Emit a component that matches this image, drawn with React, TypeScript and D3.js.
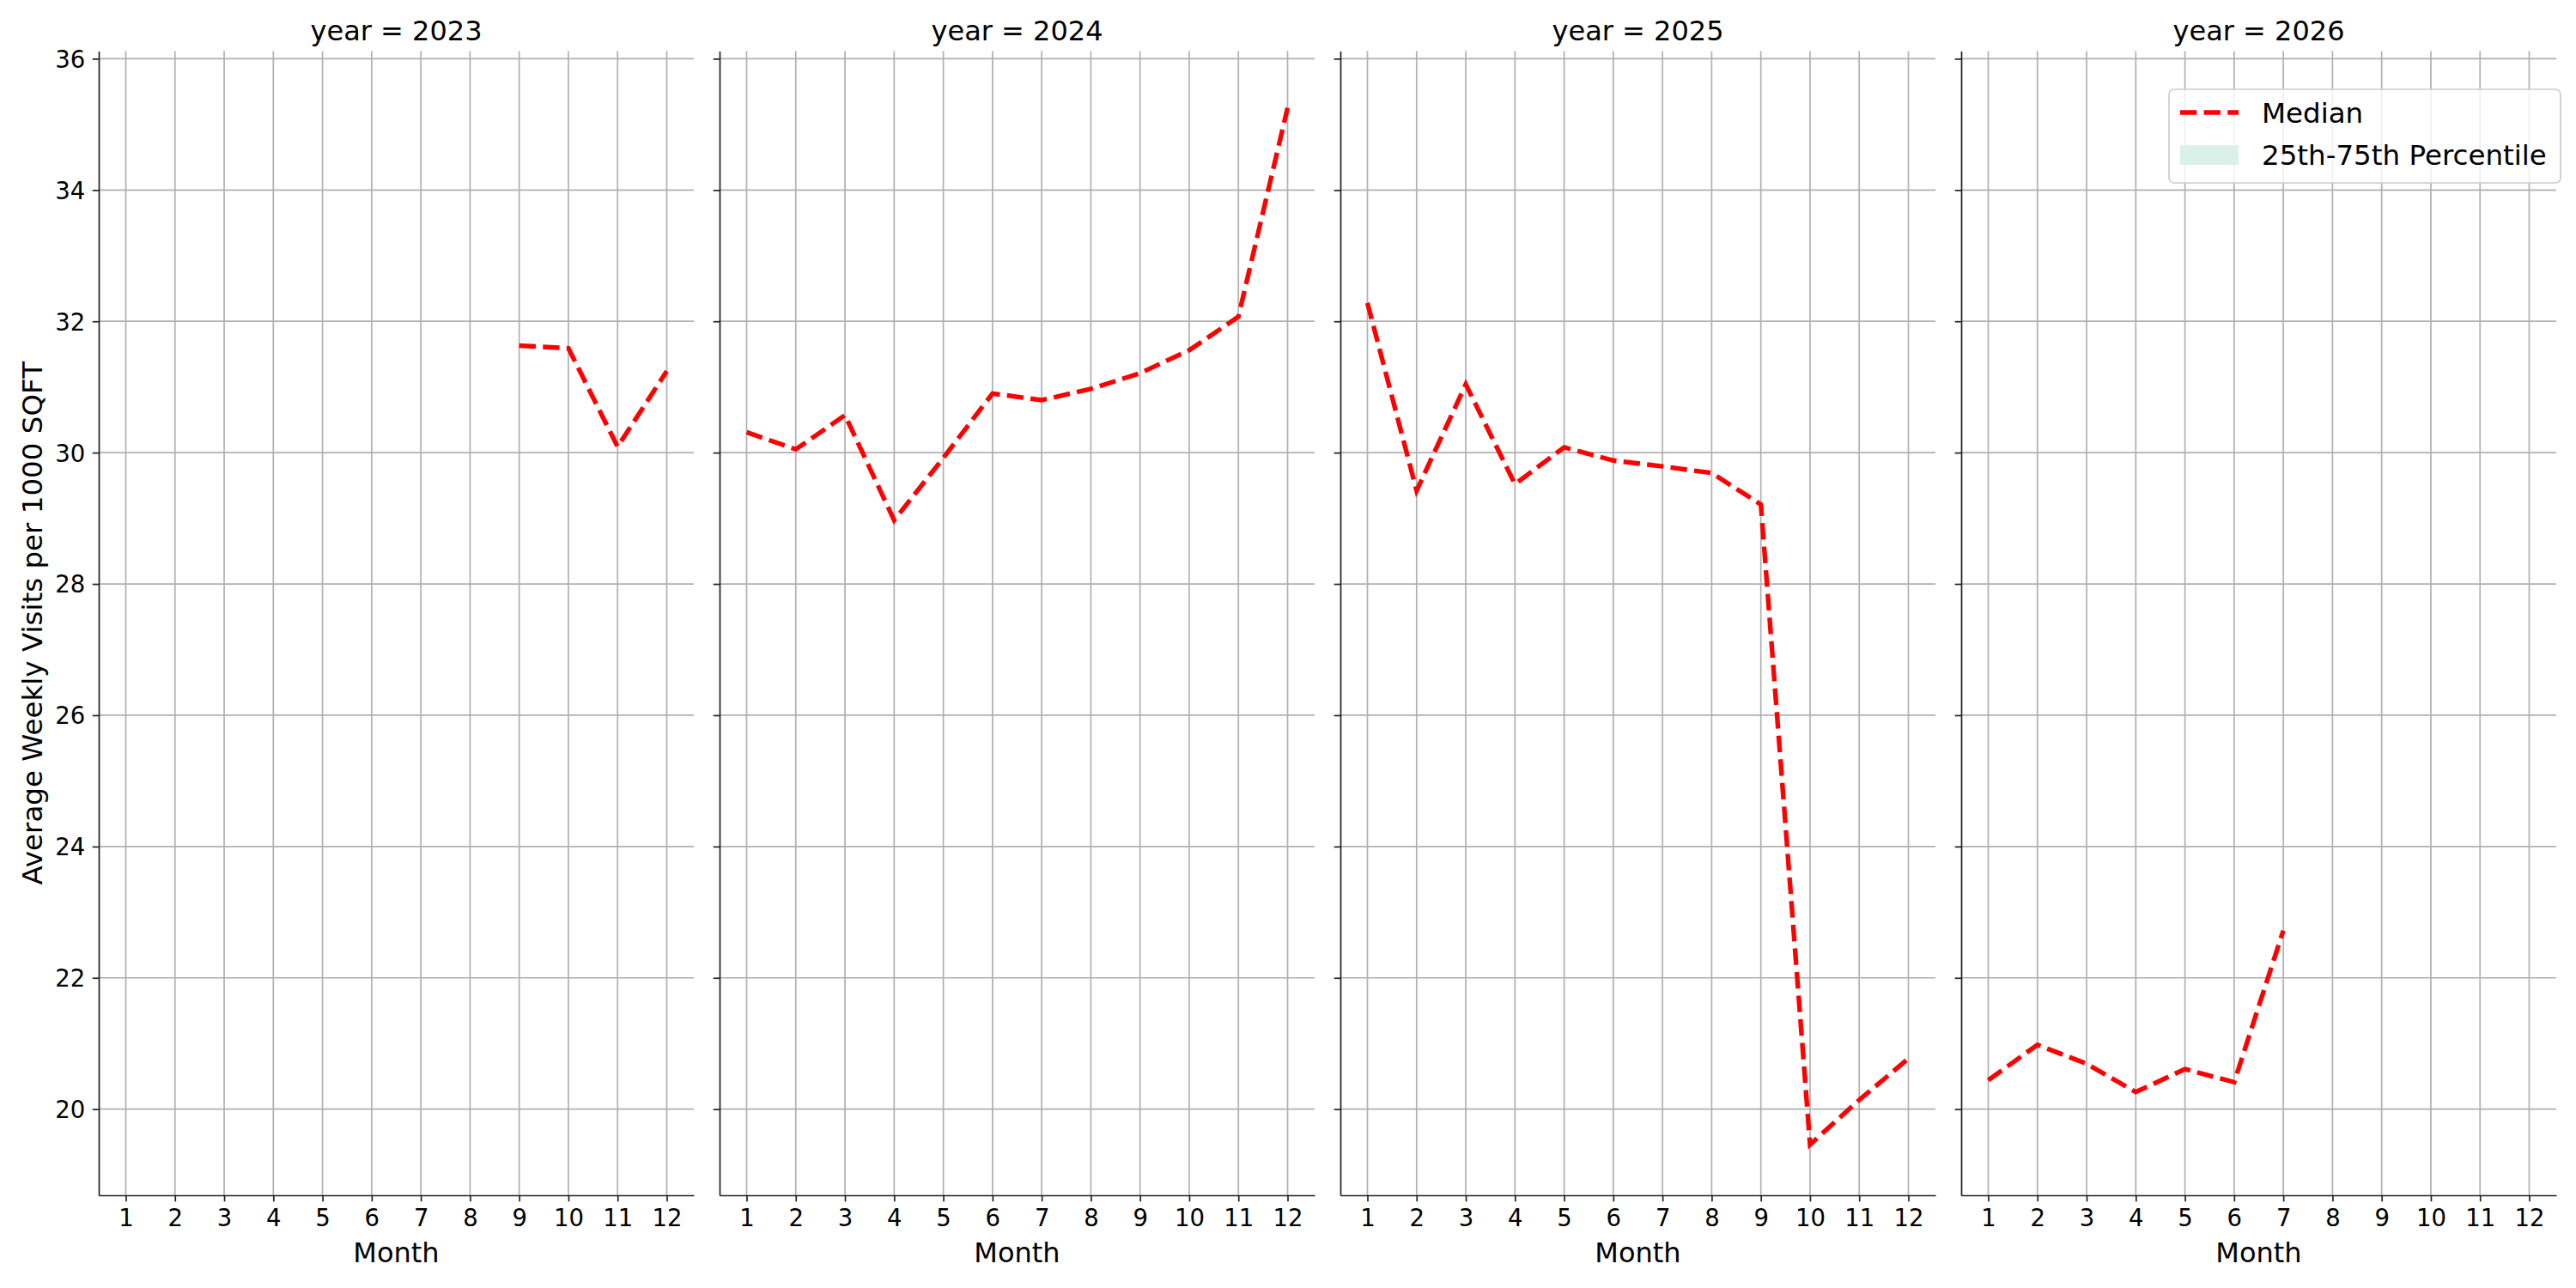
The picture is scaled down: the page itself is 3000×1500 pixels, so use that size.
import React, { useEffect, useRef } from 'react';
import * as d3 from 'd3';

const years = [2023, 2024, 2025, 2026];
const months = [1, 2, 3, 4, 5, 6, 7, 8, 9, 10, 11, 12];
const yTicks = [20, 22, 24, 26, 28, 30, 32, 34, 36];

// median weekly visits per 1000 sqft, by month
const median2023 = [
  { month: 9, value: 31.63 },
  { month: 10, value: 31.59 },
  { month: 11, value: 30.09 },
  { month: 12, value: 31.24 },
];
const median2024 = [
  { month: 1, value: 30.31 },
  { month: 2, value: 30.05 },
  { month: 3, value: 30.57 },
  { month: 4, value: 28.97 },
  { month: 5, value: 29.92 },
  { month: 6, value: 30.9 },
  { month: 7, value: 30.8 },
  { month: 8, value: 30.97 },
  { month: 9, value: 31.21 },
  { month: 10, value: 31.56 },
  { month: 11, value: 32.07 },
  { month: 12, value: 35.25 },
];
const median2025 = [
  { month: 1, value: 32.28 },
  { month: 2, value: 29.42 },
  { month: 3, value: 31.04 },
  { month: 4, value: 29.52 },
  { month: 5, value: 30.08 },
  { month: 6, value: 29.88 },
  { month: 7, value: 29.79 },
  { month: 8, value: 29.69 },
  { month: 9, value: 29.21 },
  { month: 10, value: 19.46 },
  { month: 11, value: 20.14 },
  { month: 12, value: 20.77 },
];
const median2026 = [
  { month: 1, value: 20.44 },
  { month: 2, value: 20.98 },
  { month: 3, value: 20.69 },
  { month: 4, value: 20.26 },
  { month: 5, value: 20.61 },
  { month: 6, value: 20.41 },
  { month: 7, value: 22.72 },
];

const seriesByYear = [median2023, median2024, median2025, median2026];

const FONT = '"DejaVu Sans", sans-serif';

const App: React.FC = () => {
  const svgRef = useRef<SVGSVGElement>(null);

  useEffect(() => {
    if (!svgRef.current) return;
    const svg = d3.select(svgRef.current);
    svg.selectAll('*').remove();

    const width = 3000;
    const height = 1500;
    const top = 59.5;
    const bottom = 1392;
    const panelW = 693;
    const panelLeft = [115, 838, 1561, 2284];

    svg.attr('width', width).attr('height', height);
    svg.append('rect').attr('width', width).attr('height', height).attr('fill', '#fff');

    const yScale = d3.scaleLinear().domain([18.688, 36.116]).range([bottom, top]);

    years.forEach((year, i) => {
      const x0 = panelLeft[i];
      const xScale = d3.scaleLinear().domain([0.45, 12.55]).range([x0, x0 + panelW]);
      const g = svg.append('g');

      // grid
      g.selectAll('.vgrid')
        .data(months)
        .enter()
        .append('line')
        .attr('x1', d => xScale(d))
        .attr('x2', d => xScale(d))
        .attr('y1', top)
        .attr('y2', bottom)
        .attr('stroke', '#b0b0b0')
        .attr('stroke-width', 1.7);
      g.selectAll('.hgrid')
        .data(yTicks)
        .enter()
        .append('line')
        .attr('x1', x0)
        .attr('x2', x0 + panelW)
        .attr('y1', d => yScale(d))
        .attr('y2', d => yScale(d))
        .attr('stroke', '#b0b0b0')
        .attr('stroke-width', 1.7);

      // median line
      const line = d3
        .line<{ month: number; value: number }>()
        .x(d => xScale(d.month))
        .y(d => yScale(d.value));
      g.append('path')
        .datum(seriesByYear[i])
        .attr('d', line)
        .attr('fill', 'none')
        .attr('stroke', '#ff0000')
        .attr('stroke-width', 5.4)
        .attr('stroke-dasharray', '19.3 8.3');

      // x axis
      const xAxis = g
        .append('g')
        .attr('transform', `translate(0,${bottom})`)
        .call(
          d3
            .axisBottom(xScale)
            .tickValues(months)
            .tickFormat(d3.format('d'))
            .tickSize(7.3)
            .tickPadding(7.3)
            .tickSizeOuter(0)
        );
      xAxis.select('.domain').attr('stroke', '#222').attr('stroke-width', 1.7);
      xAxis.selectAll('.tick line').attr('stroke', '#222').attr('stroke-width', 1.7);
      xAxis
        .selectAll('.tick text')
        .attr('font-family', FONT)
        .attr('font-size', 27.5)
        .attr('fill', '#000')
        .attr('dy', '0.76em');

      // y axis
      const yAxis = g
        .append('g')
        .attr('transform', `translate(${x0},0)`)
        .call(
          d3
            .axisLeft(yScale)
            .tickValues(yTicks)
            .tickFormat(d3.format('d'))
            .tickSize(7.3)
            .tickPadding(8.5)
            .tickSizeOuter(0)
        );
      yAxis.select('.domain').attr('stroke', '#222').attr('stroke-width', 1.7);
      yAxis.selectAll('.tick line').attr('stroke', '#222').attr('stroke-width', 1.7);
      yAxis
        .selectAll('.tick text')
        .attr('font-family', FONT)
        .attr('font-size', 27.5)
        .attr('fill', '#000')
        .attr('dy', '0.36em')
        .style('display', i === 0 ? null : 'none');

      // title
      svg
        .append('text')
        .attr('x', x0 + panelW / 2)
        .attr('y', 47)
        .attr('text-anchor', 'middle')
        .attr('font-family', FONT)
        .attr('font-size', 32)
        .text(`year = ${year}`);

      // x label
      svg
        .append('text')
        .attr('x', x0 + panelW / 2)
        .attr('y', 1470)
        .attr('text-anchor', 'middle')
        .attr('font-family', FONT)
        .attr('font-size', 32)
        .text('Month');
    });

    // y label
    svg
      .append('text')
      .attr('transform', `translate(49,${(top + bottom) / 2}) rotate(-90)`)
      .attr('text-anchor', 'middle')
      .attr('font-family', FONT)
      .attr('font-size', 32.5)
      .text('Average Weekly Visits per 1000 SQFT');

    // legend
    const lg = svg.append('g');
    lg.append('rect')
      .attr('x', 2526)
      .attr('y', 104)
      .attr('width', 456)
      .attr('height', 109)
      .attr('rx', 6)
      .attr('fill', '#fff')
      .attr('fill-opacity', 0.8)
      .attr('stroke', '#cccccc')
      .attr('stroke-width', 1.7);
    lg.append('line')
      .attr('x1', 2539)
      .attr('x2', 2607)
      .attr('y1', 131)
      .attr('y2', 131)
      .attr('stroke', '#ff0000')
      .attr('stroke-width', 5.4)
      .attr('stroke-dasharray', '19.3 8.3');
    lg.append('rect')
      .attr('x', 2539)
      .attr('y', 169)
      .attr('width', 68)
      .attr('height', 23)
      .attr('fill', '#dcf0ea');
    lg.append('text')
      .attr('x', 2634)
      .attr('y', 131)
      .attr('dy', '0.36em')
      .attr('font-family', FONT)
      .attr('font-size', 32.5)
      .text('Median');
    lg.append('text')
      .attr('x', 2634)
      .attr('y', 180.5)
      .attr('dy', '0.36em')
      .attr('font-family', FONT)
      .attr('font-size', 32.5)
      .text('25th-75th Percentile');
  }, []);

  return <svg ref={svgRef} style={{ position: 'absolute', left: 0, top: 0 }} />;
};

export default App;
